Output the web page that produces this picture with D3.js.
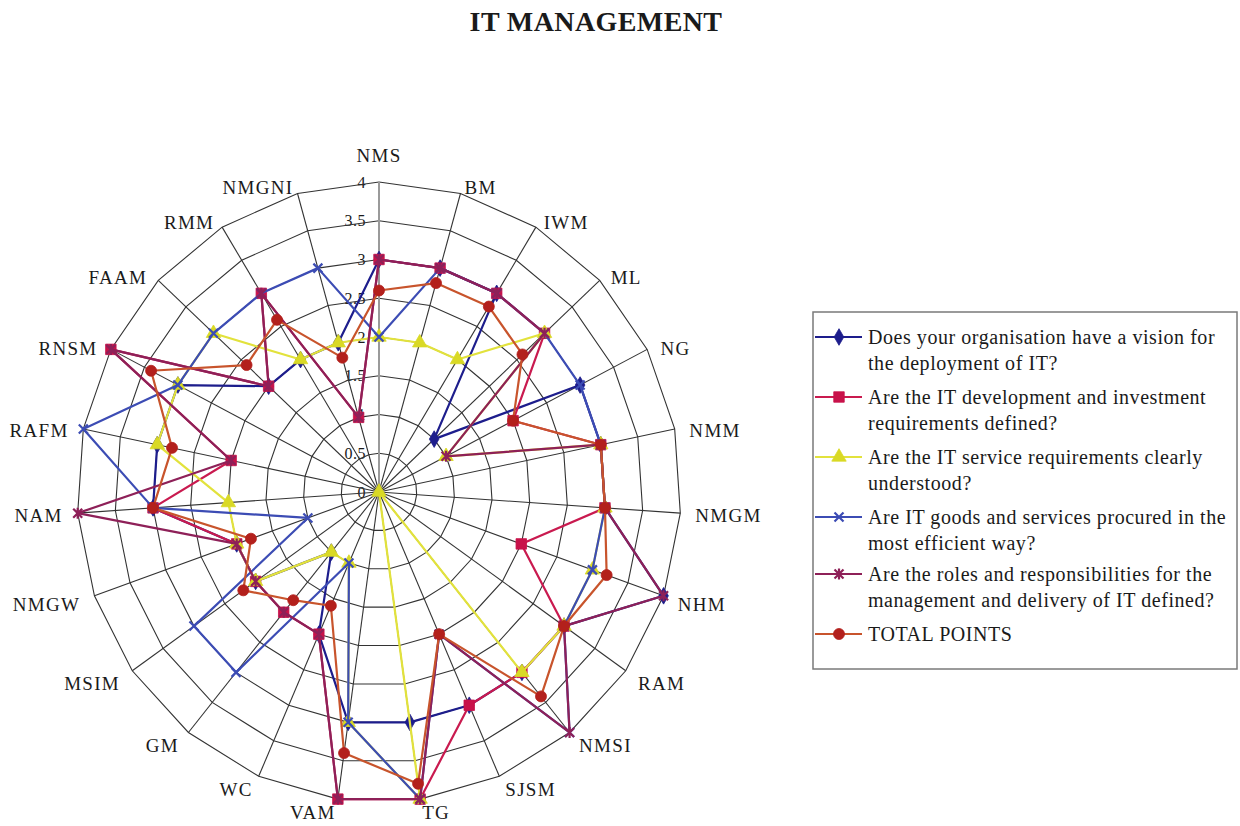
<!DOCTYPE html>
<html>
<head>
<meta charset="utf-8">
<script src="https://cdn.jsdelivr.net/npm/d3@7"></script>
<style>
  html, body { margin: 0; padding: 0; background: #ffffff; }
  svg { display: block; }
  text { font-family: "Liberation Serif", "Times New Roman", serif; fill: #1a1a1a; }
</style>
</head>
<body>
<svg id="chart" width="1240" height="826"></svg>
<script>
// Museums surveyed (one spoke each, clockwise from the top)
const categories = ["NMS","BM","IWM","ML","NG","NMM","NMGM","NHM","RAM","NMSI","SJSM","TG",
                    "VAM","WC","GM","MSIM","NMGW","NAM","RAFM","RNSM","FAAM","RMM","NMGNI"];

// Scores per question (0-4), in category order
const vision      = [3,3,3,1,3,3,3,4,3,3,3,3,3,2,1,2,2,3,3,3,2,2,2];
const investment  = [3,3,3,3,2,3,3,2,3,3,3,4,4,2,2,2,2,3,2,4,2,3,1];
const service     = [2,2,2,3,1,3,3,3,3,3,0,4,3,1,1,2,2,2,3,3,3,2,2];
const procurement = [2,3,3,3,3,3,3,3,3,4,2,4,3,1,3,3,1,3,4,3,3,3,3];
const roles       = [3,3,3,3,1,3,3,4,3,4,2,4,4,2,2,2,2,4,2,4,2,3,1];
const totalPoints = [2.6,2.8,2.8,2.6,2,3,3,3.2,3,3.4,2,3.8,3.4,1.6,1.8,2.2,1.8,3,2.8,3.4,2.4,2.6,1.8];

// Radial axis ticks
const tickValues = [0, 0.5, 1, 1.5, 2, 2.5, 3, 3.5, 4];
const tickLabels = ["0", "0.5", "1", "1.5", "2", "2.5", "3", "3.5", "4"];

// Legend texts (each entry may wrap onto two lines)
const seriesNames = [
  ["Does your organisation have a vision for", "the deployment of IT?"],
  ["Are the IT development and investment", "requirements defined?"],
  ["Are the IT service requirements clearly", "understood?"],
  ["Are IT goods and services procured in the", "most efficient way?"],
  ["Are the roles and responsibilities for the", "management and delivery of IT defined?"],
  ["TOTAL POINTS"]
];

const series = [
  { values: vision,      line: "#1d1d8c", fill: "#1d1d8c", marker: "diamond" },
  { values: investment,  line: "#c91a4f", fill: "#c8124a", marker: "square" },
  { values: service,     line: "#e2e23c", fill: "#d9d925", marker: "triangle" },
  { values: procurement, line: "#3c4cb4", fill: "#3c4cb4", marker: "cross" },
  { values: roles,       line: "#8e2058", fill: "#8e2058", marker: "star" },
  { values: totalPoints, line: "#c8542c", fill: "#b3201c", marker: "circle" }
];

const svg = d3.select("#chart");
const cx = 379, cy = 492;
const n = categories.length;

const rX = d3.scaleLinear().domain([0, 4]).range([0, 302]);
const rY = d3.scaleLinear().domain([0, 4]).range([0, 310]);
const angle = d3.scaleLinear().domain([0, n]).range([0, 2 * Math.PI]);

const pt = (i, v) => [cx + rX(v) * Math.sin(angle(i)), cy - rY(v) * Math.cos(angle(i))];

// Title
svg.append("text")
  .attr("x", 596).attr("y", 31)
  .attr("text-anchor", "middle")
  .style("font-size", "28px").style("font-weight", "bold")
  .style("letter-spacing", "0.4px")
  .text("IT MANAGEMENT");

// Tick labels along the first spoke
svg.append("g").selectAll("text")
  .data(tickValues)
  .join("text")
  .attr("x", cx - 13)
  .attr("y", d => cy - rY(d))
  .attr("dy", "0.35em")
  .attr("text-anchor", "end")
  .style("font-size", "16px")
  .style("letter-spacing", "0.5px")
  .text((d, i) => tickLabels[i]);

// Grid rings (polygons)
const grid = svg.append("g");
const ringLine = d3.line().curve(d3.curveLinearClosed);
grid.selectAll("path.ring")
  .data(tickValues.filter(v => v > 0))
  .join("path")
  .attr("class", "ring")
  .attr("d", v => ringLine(d3.range(n).map(i => pt(i, v))))
  .attr("fill", "none")
  .attr("stroke", "#333333")
  .attr("stroke-width", 1.1);

// Spokes
grid.selectAll("line.spoke")
  .data(d3.range(n))
  .join("line")
  .attr("class", "spoke")
  .attr("x1", cx).attr("y1", cy)
  .attr("x2", i => pt(i, 4)[0])
  .attr("y2", i => pt(i, 4)[1])
  .attr("stroke", i => i === 0 ? "#9a9a9a" : "#333333")
  .attr("stroke-width", i => i === 0 ? 2 : 1.1);

// Category labels
svg.append("g").selectAll("text")
  .data(categories)
  .join("text")
  .each(function (d, i) {
    const a = angle(i), s = Math.sin(a), c = Math.cos(a);
    const [ex, ey] = pt(i, 4);
    let dy;
    if (c < 0) dy = 13 * Math.min(1, 2 * -c);
    else if (c > 0.99) dy = -27;
    else dy = 3 - 9 * c;
    const anchor = s > 0.1 ? "start" : (s < -0.1 ? "end" : "middle");
    d3.select(this)
      .attr("x", ex + 15 * s)
      .attr("y", ey + dy)
      .attr("dy", "0.35em")
      .attr("text-anchor", anchor)
      .style("font-size", "19px")
      .style("letter-spacing", "1.3px")
      .text(d);
  });

// Marker shapes
function markerPath(kind) {
  switch (kind) {
    case "diamond":  return d3.symbol(d3.symbolDiamond, 80)();
    case "square":   return d3.symbol(d3.symbolSquare, 110)();
    case "triangle": return d3.symbol(d3.symbolTriangle, 90)();
    case "circle":   return d3.symbol(d3.symbolCircle, 95)();
    case "cross":    return "M-4.5,-4.5L4.5,4.5M-4.5,4.5L4.5,-4.5";
    case "star":     return "M-4.5,-4.5L4.5,4.5M-4.5,4.5L4.5,-4.5M0,-5.5L0,5.5";
  }
}
function drawMarker(sel, s) {
  const open = s.marker === "cross" || s.marker === "star";
  sel.append("path")
    .attr("d", markerPath(s.marker))
    .attr("fill", open ? "none" : s.fill)
    .attr("stroke", s.fill)
    .attr("stroke-width", open ? 2.2 : 0.8);
}

// Series
const seriesLine = d3.line().curve(d3.curveLinearClosed);
const plot = svg.append("g");
series.forEach(s => {
  const g = plot.append("g");
  g.append("path")
    .attr("d", seriesLine(s.values.map((v, i) => pt(i, v))))
    .attr("fill", "none")
    .attr("stroke", s.line)
    .attr("stroke-width", 2.2)
    .attr("stroke-linejoin", "round");
  g.selectAll("g.mk")
    .data(s.values)
    .join("g")
    .attr("class", "mk")
    .attr("transform", (v, i) => `translate(${pt(i, v)[0]},${pt(i, v)[1]})`)
    .each(function () { drawMarker(d3.select(this), s); });
});

// Legend
const legend = svg.append("g");
legend.append("rect")
  .attr("x", 813).attr("y", 312)
  .attr("width", 424).attr("height", 357)
  .attr("fill", "#ffffff")
  .attr("stroke", "#7a7a7a")
  .attr("stroke-width", 1.5);

const entryY = [337, 397, 457, 517, 574, 634];
series.forEach((s, k) => {
  const y = entryY[k];
  const g = legend.append("g");
  g.append("line")
    .attr("x1", 815).attr("x2", 862)
    .attr("y1", y).attr("y2", y)
    .attr("stroke", s.line).attr("stroke-width", 2.2);
  g.append("g")
    .attr("transform", `translate(839,${y})`)
    .call(sel => drawMarker(sel, s));
  seriesNames[k].forEach((t, j) => {
    g.append("text")
      .attr("x", 868)
      .attr("y", y + j * 26)
      .attr("dy", "0.35em")
      .style("font-size", "20px")
      .style("letter-spacing", "0.55px")
      .text(t);
  });
});
</script>
</body>
</html>
